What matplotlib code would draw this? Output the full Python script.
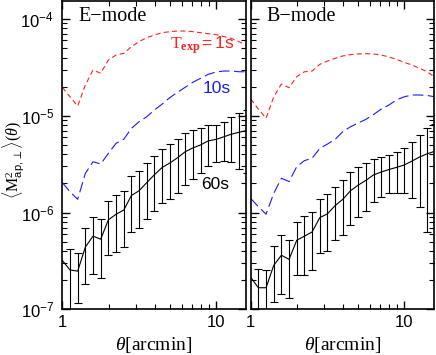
import numpy as np
import matplotlib
matplotlib.use("Agg")
import matplotlib.pyplot as plt
from matplotlib.ticker import LogLocator, FixedLocator, FuncFormatter, NullFormatter

plt.rcParams['mathtext.fontset'] = 'custom'
plt.rcParams['mathtext.rm'] = 'Liberation Serif'
plt.rcParams['mathtext.it'] = 'Liberation Serif:italic'
plt.rcParams['mathtext.bf'] = 'Liberation Serif:bold'
plt.rcParams['mathtext.sf'] = 'Liberation Sans'
plt.rcParams['font.family'] = ['Liberation Serif', 'DejaVu Serif']

# ---------------- data ----------------
theta = [1.0, 1.122, 1.259, 1.413, 1.585, 1.778, 1.995, 2.239, 2.512, 2.818,
         3.162, 3.548, 3.981, 4.467, 5.012, 5.623, 6.310, 7.079, 7.943, 8.913,
         10.0, 11.22, 12.59, 14.13, 15.85]

E_1s = [1.97e-5, 1.57e-5, 1.26e-5, 2.08e-5, 2.97e-5, 2.75e-5, 3.77e-5, 4.25e-5,
        4.42e-5, 5.18e-5, 5.84e-5, 6.42e-5, 6.84e-5, 7.22e-5, 7.40e-5, 7.51e-5,
        7.51e-5, 7.40e-5, 7.22e-5, 7.05e-5, 6.90e-5, 6.60e-5, 6.31e-5, 5.84e-5, 5.30e-5]
E_10s = [2.04e-6, 1.64e-6, 1.37e-6, 2.54e-6, 3.35e-6, 3.17e-6, 4.09e-6, 5.19e-6,
         5.71e-6, 7.42e-6, 8.69e-6, 9.77e-6, 1.15e-5, 1.32e-5, 1.54e-5, 1.75e-5,
         1.97e-5, 2.22e-5, 2.44e-5, 2.68e-5, 2.83e-5, 2.90e-5, 2.90e-5, 2.85e-5, 2.85e-5]
E_60s = [3.2e-7, 2.55e-7, 2.48e-7, 4.4e-7, 5.7e-7, 5.3e-7, 8.4e-7, 9.6e-7,
         1.06e-6, 1.5e-6, 1.68e-6, 2.04e-6, 2.46e-6, 2.92e-6, 3.25e-6, 3.68e-6,
         4.25e-6, 4.65e-6, 5.0e-6, 5.5e-6, 5.7e-6, 6.05e-6, 6.45e-6, 6.75e-6, 7.05e-6]
E_err = [1.8e-7, 1.6e-7, 1.31e-7, 2.57e-7, 3.37e-7, 3.2e-7, 4.77e-7, 5.7e-7,
         6.23e-7, 8.7e-7, 9.9e-7, 1.19e-6, 1.42e-6, 1.66e-6, 1.86e-6, 2.08e-6,
         2.32e-6, 2.45e-6, 2.42e-6, 2.45e-6, 2.37e-6, 2.63e-6, 3.15e-6, 3.9e-6, 4.5e-6]

B_1s = [1.49e-5, 1.17e-5, 9.43e-6, 1.57e-5, 2.13e-5, 1.95e-5, 2.54e-5, 2.85e-5,
        2.90e-5, 3.40e-5, 3.68e-5, 3.93e-5, 4.15e-5, 4.28e-5, 4.35e-5, 4.38e-5,
        4.35e-5, 4.25e-5, 4.05e-5, 3.83e-5, 3.56e-5, 3.35e-5, 3.09e-5, 2.85e-5, 2.50e-5]
B_10s = [1.40e-6, 1.15e-6, 9.6e-7, 1.58e-6, 2.26e-6, 2.09e-6, 2.98e-6, 3.44e-6,
         3.64e-6, 4.61e-6, 5.1e-6, 5.71e-6, 6.85e-6, 7.7e-6, 8.4e-6, 9.18e-6,
         1.03e-5, 1.17e-5, 1.29e-5, 1.46e-5, 1.57e-5, 1.64e-5, 1.64e-5, 1.62e-5, 1.57e-5]
B_60s = [2.14e-7, 1.67e-7, 1.67e-7, 2.85e-7, 3.62e-7, 3.28e-7, 5.17e-7, 5.7e-7,
         6.3e-7, 8.85e-7, 9.7e-7, 1.18e-6, 1.37e-6, 1.68e-6, 1.92e-6, 2.15e-6,
         2.45e-6, 2.62e-6, 2.78e-6, 2.93e-6, 3.1e-6, 3.4e-6, 3.75e-6, 4.05e-6, 4.3e-6]
B_err = [1.0e-7, 0.96e-7, 0.88e-7, 1.65e-7, 2.18e-7, 1.97e-7, 2.9e-7, 3.45e-7,
         3.75e-7, 5.0e-7, 5.7e-7, 6.6e-7, 7.9e-7, 9.4e-7, 1.03e-6, 1.12e-6,
         1.16e-6, 1.16e-6, 1.19e-6, 1.34e-6, 1.52e-6, 2.0e-6, 2.6e-6, 3.42e-6, 4.0e-6]

panel_titles = ['E\u2212mode', 'B\u2212mode']
xticks = [1, 10]
xticklabels = ['1', '10']

# ---------------- figure ----------------
W, H = 436, 355
fig = plt.figure(figsize=(W / 100, H / 100), dpi=100)

x0L, x1L = 62.3, 245.7
x0R, x1R = 250.7, 434.0
ytop, ybot = 0.7, 309.3
axL = fig.add_axes([x0L / W, (H - ybot) / H, (x1L - x0L) / W, (ybot - ytop) / H])
axR = fig.add_axes([x0R / W, (H - ybot) / H, (x1R - x0R) / W, (ybot - ytop) / H])

xlim = (1.0, 15.63)
ylim = (1e-7, 1.546e-4)

red_dash = (0, (4.5, 3.0))
blue_dash = (0, (9.5, 4.0))


def yfmt(v, pos):
    e = int(round(np.log10(v)))
    return r'$\mathsf{10^{%d}}$' % e


def xfmt(v, pos):
    r = int(round(v))
    return xticklabels[xticks.index(r)] if r in xticks else ''


for k, (ax, d1, d10, d60, err) in enumerate([
        (axL, E_1s, E_10s, E_60s, E_err),
        (axR, B_1s, B_10s, B_60s, B_err)]):
    ax.set_xscale('log')
    ax.set_yscale('log')
    ax.plot(theta, d1, color='#ff2020', lw=0.8, linestyle=red_dash)
    ax.plot(theta, d10, color='#1a1aff', lw=0.8, linestyle=blue_dash)
    ax.errorbar(theta, d60, yerr=err, color='black', lw=0.8, elinewidth=0.8,
                capsize=3, capthick=0.8, errorevery=(1, 1))
    ax.set_xlim(*xlim)
    ax.set_ylim(*ylim)

    ax.xaxis.set_major_locator(FixedLocator(xticks))
    ax.xaxis.set_minor_locator(LogLocator(base=10, subs=np.arange(2, 10)))
    ax.xaxis.set_major_formatter(FuncFormatter(xfmt))
    ax.xaxis.set_minor_formatter(NullFormatter())
    ax.yaxis.set_major_locator(LogLocator(base=10, numticks=10))
    ax.yaxis.set_minor_locator(LogLocator(base=10, subs=np.arange(2, 10), numticks=20))
    ax.yaxis.set_minor_formatter(NullFormatter())
    if k == 0:
        ax.yaxis.set_major_formatter(FuncFormatter(yfmt))
    else:
        ax.yaxis.set_major_formatter(NullFormatter())

    ax.tick_params(which='both', direction='in', top=True, right=True)
    ax.tick_params(which='major', length=6, width=1.0)
    ax.tick_params(which='minor', length=3.5, width=0.8)
    ax.tick_params(axis='y', which='major', pad=6)
    ax.tick_params(axis='x', which='major', pad=4)
    for lab in ax.get_xticklabels() + ax.get_yticklabels():
        lab.set_fontfamily('Liberation Sans')
        lab.set_fontsize(12)
    for sp in ax.spines.values():
        sp.set_linewidth(1.2)

    ax.text(0.086, 0.935, panel_titles[k], transform=ax.transAxes,
            fontsize=14.5, va='baseline', ha='left', family='Liberation Serif')
    ax.text(0.5, -0.116, r'$\theta$[arcmin]', transform=ax.transAxes,
            fontsize=14, va='center', ha='center', family='Liberation Serif')

axL.text(0.587, 0.846, r'$\mathrm{T}_{\mathbf{exp}}\mathsf{=1s}$', transform=axL.transAxes,
         color='#ff2020', fontsize=12.5, va='baseline', ha='left')
axL.text(0.766, 0.702, '10s', transform=axL.transAxes, color='#1a1aff',
         fontsize=12.5, va='baseline', ha='left', family='Liberation Sans')
axL.text(0.755, 0.389, '60s', transform=axL.transAxes, color='black',
         fontsize=12.5, va='baseline', ha='left', family='Liberation Sans')

fig.text(0.032, (H - 160) / H,
         r'$\langle\mathrm{M}^{2}_{\mathsf{ap,}\perp}\rangle(\theta)$',
         rotation=90, ha='center', va='center', fontsize=11.5)

fig.savefig('out.png', dpi=100)
